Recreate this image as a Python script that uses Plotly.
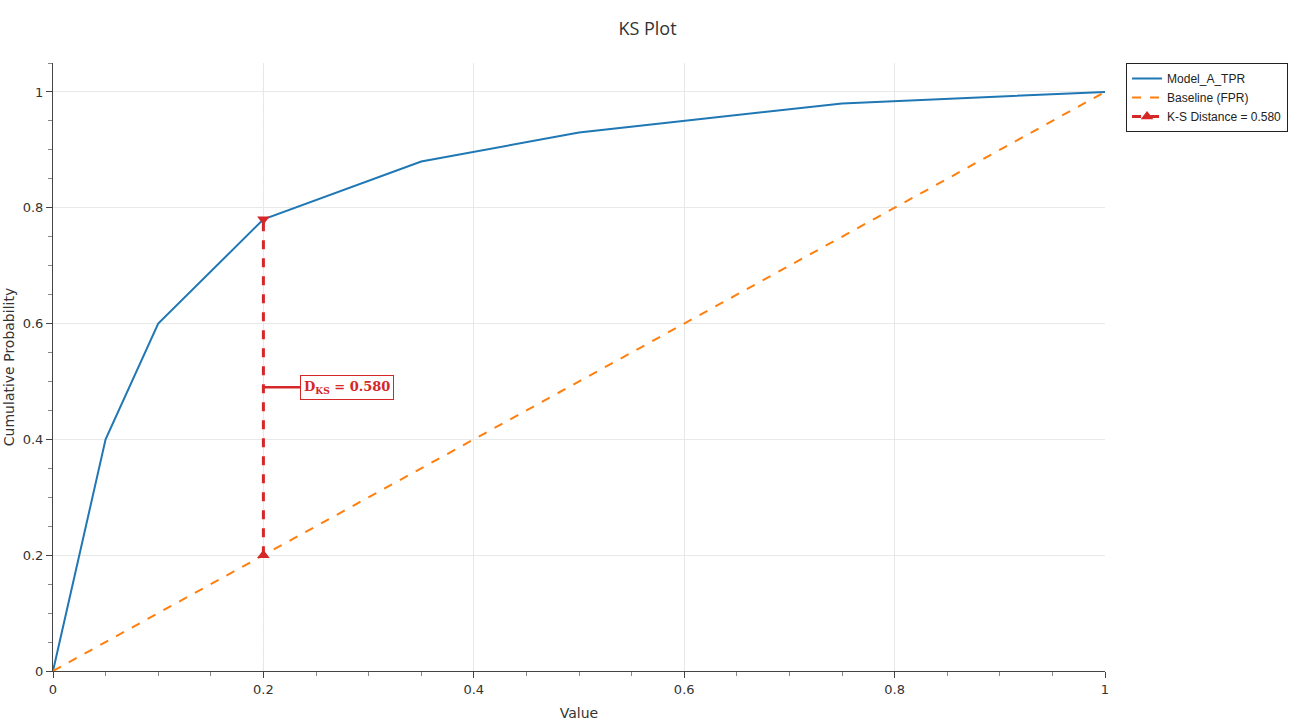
import plotly.graph_objects as go

model_x = [0.0, 0.05, 0.1, 0.2, 0.35, 0.5, 0.75, 1.0]
model_y = [0.0, 0.40, 0.60, 0.78, 0.88, 0.93, 0.98, 1.0]
base_x = [0.0, 1.0]
base_y = [0.0, 1.0]
ks_x = [0.2, 0.2]
ks_y = [0.2, 0.78]
ks_value = 0.58

fig = go.Figure()
fig.add_trace(go.Scatter(x=model_x, y=model_y, mode="lines", name="Model_A_TPR",
                         line=dict(color="#1f77b4", width=2)))
fig.add_trace(go.Scatter(x=base_x, y=base_y, mode="lines", name="Baseline (FPR)",
                         line=dict(color="#ff7f0e", width=2, dash="dash")))
fig.add_trace(go.Scatter(x=ks_x, y=ks_y, mode="lines+markers",
                         name=f"K-S Distance = {ks_value:.3f}",
                         line=dict(color="#d62728", width=3, dash="dash"),
                         marker=dict(symbol=["triangle-up", "triangle-down"], size=11, color="#d62728")))

fig.add_vline(x=ks_x[0], line=dict(color="#bbbbbb", width=1, dash="dash"), layer="below")

fig.add_annotation(x=ks_x[0], y=(ks_y[0] + ks_y[1]) / 2, xref="x", yref="y",
                   text=f"D<sub>KS</sub> = {ks_value:.3f}", showarrow=True,
                   ax=84, ay=0, arrowhead=0, arrowwidth=2.5, arrowcolor="#d62728",
                   font=dict(family="DejaVu Serif, serif", size=13, color="#d62728", weight="bold"),
                   bordercolor="#d62728", borderwidth=1, bgcolor="white", borderpad=3)

axis_common = dict(showline=True, linecolor="#444", linewidth=1, ticks="outside", ticklen=6,
                   tickcolor="#444", showgrid=True, gridcolor="#e8e8e8", zeroline=False,
                   tickfont=dict(family="Verdana, DejaVu Sans", size=13, color="#333"),
                   minor=dict(ticks="outside", ticklen=4, tickcolor="#888", showgrid=False),
                   mirror=False, automargin=False)

fig.update_layout(
    template="simple_white",
    width=1295, height=723,
    margin=dict(l=53, r=190, t=63, b=52, autoexpand=False),
    title=dict(text="KS Plot", x=0.5, xanchor="center", y=0.96, yanchor="middle",
               font=dict(family="Open Sans, Segoe UI", size=18, color="#333")),
    xaxis=dict(title=dict(text="Value", font=dict(family="Verdana, DejaVu Sans", size=14, color="#333"), standoff=12),
               range=[0, 1], dtick=0.2, minor_dtick=0.05, **axis_common),
    yaxis=dict(title=dict(text="Cumulative Probability", font=dict(family="Verdana, DejaVu Sans", size=14, color="#333"), standoff=4),
               range=[0, 1.05], dtick=0.2, minor_dtick=0.05, **axis_common),
    legend=dict(x=1.02, y=1.0, xanchor="left", yanchor="top", bordercolor="#222", borderwidth=1,
                font=dict(family="Arial, Liberation Sans", size=12, color="#222"), bgcolor="white"),
    plot_bgcolor="white", paper_bgcolor="white",
)

fig.write_html("out.html")
